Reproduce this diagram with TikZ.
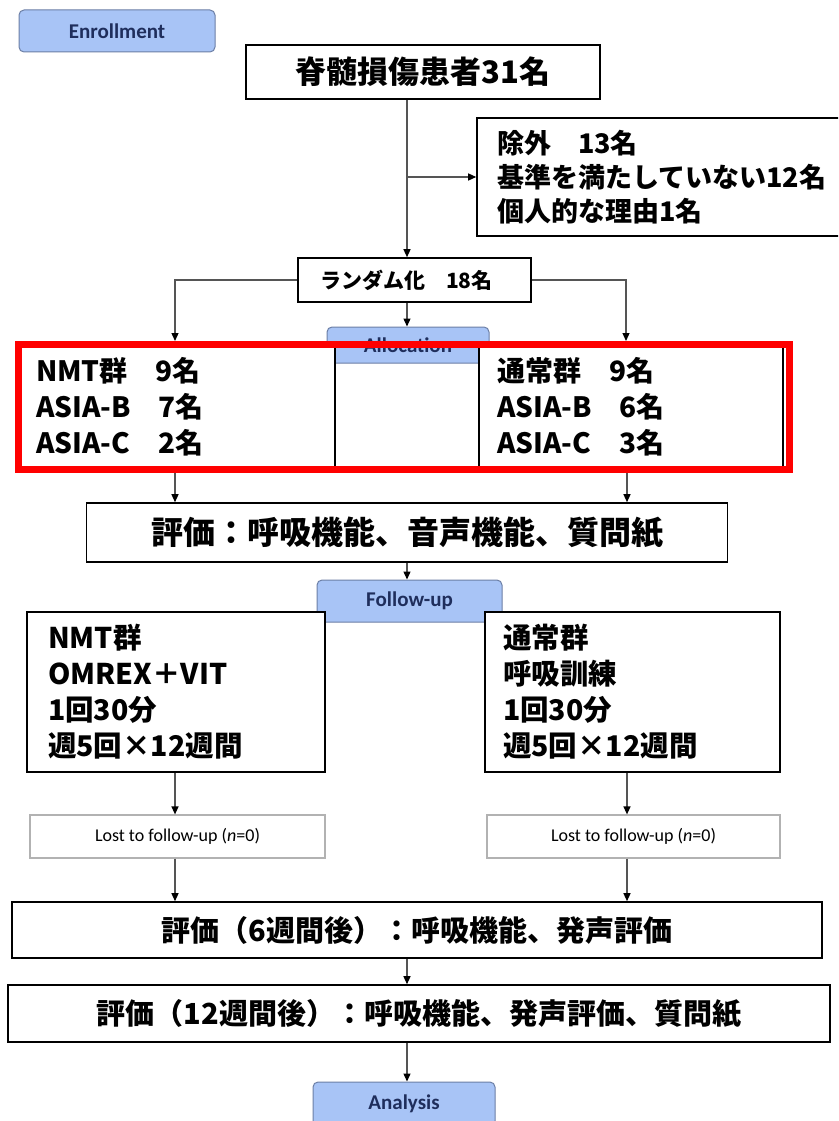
\documentclass[tikz,border=0pt]{standalone}
\usepackage{fontspec}
\newfontfamily\jp{Noto Sans CJK JP}
\newfontfamily\lat{Carlito}
\usetikzlibrary{arrows.meta}
\definecolor{bluefill}{HTML}{A8C4F6}
\definecolor{blueline}{HTML}{6C7FA6}
\definecolor{bluetext}{HTML}{1F2E5C}
\definecolor{linegrey}{HTML}{555555}
\definecolor{redframe}{HTML}{FF0000}
\tikzset{
  box/.style={draw=black, line width=1.6pt, fill=white, inner sep=0pt, font=\jp\bfseries},
  listbox/.style={box, align=left},
  phase/.style={draw=blueline, line width=1pt, fill=bluefill, rounded corners=5pt, inner sep=0pt,
    font=\lat\bfseries\fontsize{21}{24}\selectfont, text=bluetext},
  lostbox/.style={draw=gray!60, line width=1.2pt, fill=white, inner sep=0pt,
    font=\lat\fontsize{18}{21}\selectfont},
  arr/.style={draw=linegrey, line width=1.3pt, -{Triangle[length=8pt,width=7pt,color=black]}},
}
\begin{document}
\begin{tikzpicture}[x=1pt,y=-1pt]
\clip (0,0) rectangle (838,1121);
\fill[white] (0,0) rectangle (838,1121);
\coordinate (cx) at (407,0);
\coordinate (Lx) at (175,0);
\coordinate (Rx) at (627,0);

% phase labels
\node[phase, minimum width=196pt, minimum height=42pt] (enr) at (117,31) {Enrollment};

\node[box, minimum width=354pt, minimum height=54pt, font=\jp\bfseries\fontsize{31}{36}\selectfont] (title) at (423,72) {脊髄損傷患者31名};

\node[listbox, minimum width=365pt, minimum height=118pt, text width=325pt, inner xsep=20pt,
  font=\jp\bfseries\fontsize{27}{34}\selectfont] (excl) at (659.5,177)
  {除外　13名\\基準を満たしていない12名\\個人的な理由1名};

\node[listbox, minimum width=233pt, minimum height=44pt, text width=189pt, inner xsep=22pt,
  font=\jp\bfseries\fontsize{21}{24}\selectfont] (rand) at (414.5,280) {ランダム化　18名};

\node[phase, minimum width=162pt, minimum height=36pt] (alloc) at (408,345) {Allocation};

\node[listbox, minimum width=315pt, minimum height=125pt, text width=279pt, inner xsep=20pt,
  font=\jp\bfseries\fontsize{28}{36}\selectfont] (nmta) at (175.5,406.5)
  {NMT群　9名\\ASIA-B　7名\\ASIA-C　2名};
\node[listbox, minimum width=304pt, minimum height=125pt, text width=268pt, inner xsep=18pt,
  font=\jp\bfseries\fontsize{28}{36}\selectfont] (norma) at (631,406.5)
  {通常群　9名\\ASIA-B　6名\\ASIA-C　3名};
\draw[redframe, line width=7pt] (18,344) rectangle (789,469);

\node[box, minimum width=641pt, minimum height=59pt, font=\jp\bfseries\fontsize{32}{38}\selectfont] (ev1) at (407,532.5) {評価：呼吸機能、音声機能、質問紙};

\node[phase, minimum width=185pt, minimum height=42pt] (fu) at (409.5,601) {Follow-up};

\node[listbox, minimum width=298pt, minimum height=160pt, text width=256pt, inner xsep=21pt,
  font=\jp\bfseries\fontsize{28.5}{36}\selectfont] (nmtb) at (176,692)
  {NMT群\\OMREX＋VIT\\1回30分\\週5回×12週間};
\node[listbox, minimum width=295pt, minimum height=160pt, text width=259pt, inner xsep=18pt,
  font=\jp\bfseries\fontsize{28.5}{36}\selectfont] (normb) at (632.5,692)
  {通常群\\呼吸訓練\\1回30分\\週5回×12週間};

\node[lostbox, minimum width=295pt, minimum height=43pt] (lost1) at (177.5,836.5) {Lost to follow-up (\textit{n}=0)};
\node[lostbox, minimum width=293pt, minimum height=43pt] (lost2) at (633.5,836.5) {Lost to follow-up (\textit{n}=0)};

\node[box, minimum width=810pt, minimum height=56pt, font=\jp\bfseries\fontsize{29}{34}\selectfont] (ev2) at (417,930) {評価（6週間後）：呼吸機能、発声評価\hspace{10pt}};
\node[box, minimum width=822pt, minimum height=57pt, font=\jp\bfseries\fontsize{29}{34}\selectfont] (ev3) at (419,1013.5) {評価（12週間後）：呼吸機能、発声評価、質問紙\hspace{14pt}};

\node[phase, minimum width=182pt, minimum height=44pt] (ana) at (404,1104) {Analysis};

% connectors
\coordinate (b1) at (cx |- excl.west);
\coordinate (lin) at (175,341);
\coordinate (rin) at (626,341);
\coordinate (lout) at (175,473);
\coordinate (rout) at (627,473);
\draw[arr] (title.south -| cx) -- (rand.north -| cx);
\draw[arr] (b1) -- (excl.west);
\draw[arr] (rand.west) -| (lin);
\draw[arr] (rand.east) -| (rin);
\draw[arr] (rand.south -| cx) -- (alloc.north -| cx);
\draw[arr] (lout) -- (lout |- ev1.north);
\draw[arr] (rout) -- (rout |- ev1.north);
\draw[arr] (ev1.south -| cx) -- (fu.north -| cx);
\draw[arr] (nmtb.south -| Lx) -- (lost1.north -| Lx);
\draw[arr] (normb.south -| Rx) -- (lost2.north -| Rx);
\draw[arr] (lost1.south -| Lx) -- (ev2.north -| Lx);
\draw[arr] (lost2.south -| Rx) -- (ev2.north -| Rx);
\draw[arr] (ev2.south -| cx) -- (ev3.north -| cx);
\draw[arr] (ev3.south -| cx) -- (ana.north -| cx);
\end{tikzpicture}
\end{document}
